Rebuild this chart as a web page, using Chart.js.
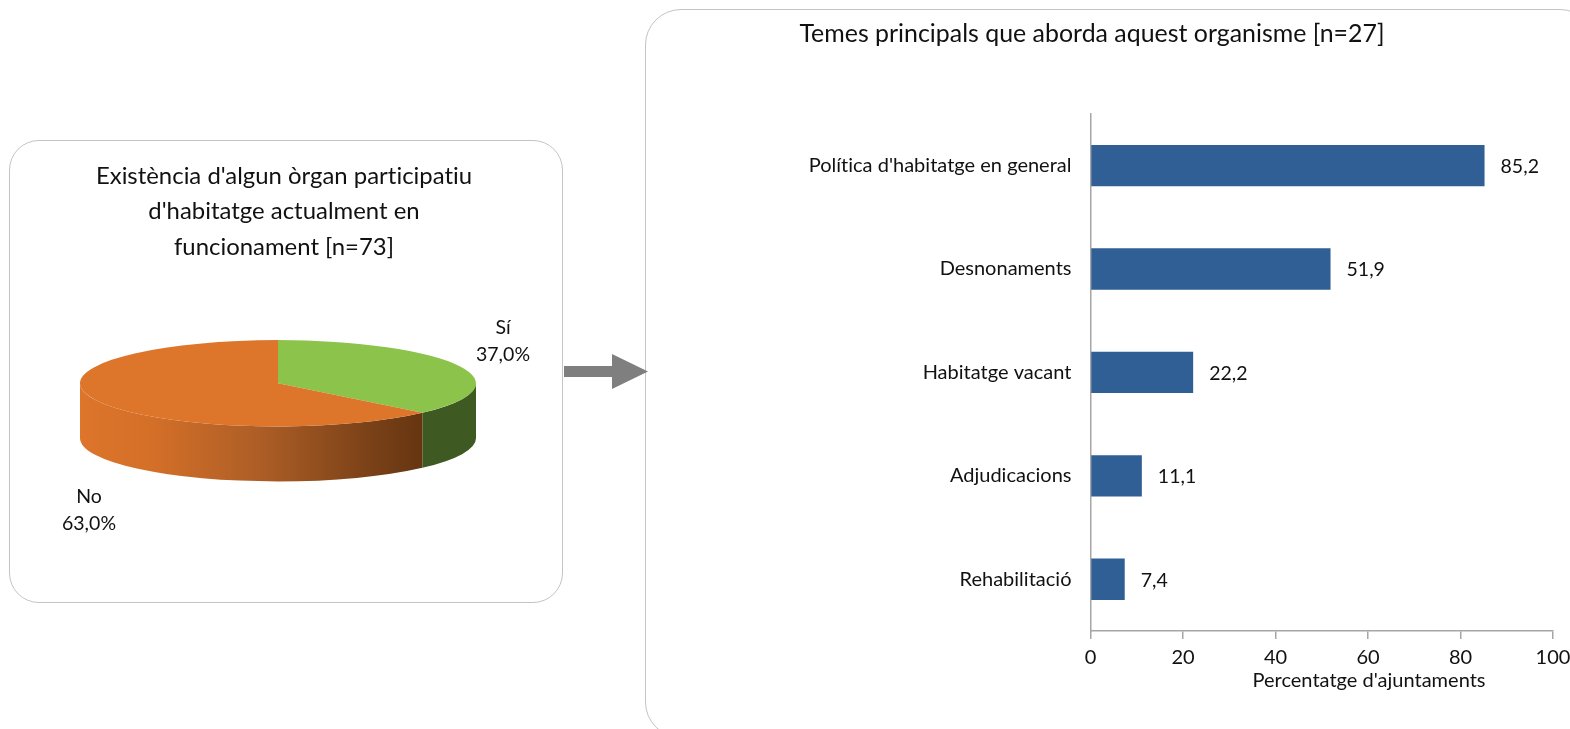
<!DOCTYPE html>
<html>
<head>
<meta charset="utf-8">
<title>Òrgans participatius d'habitatge</title>
<script src="https://cdn.jsdelivr.net/npm/chart.js@4"></script>
<style>
  html, body { margin: 0; padding: 0; width: 1570px; height: 729px; overflow: hidden; background: #fff; }
  .box { position: absolute; border: 1px solid #c4c4c4; box-sizing: border-box; background: #fff; }
  #box-pie { left: 9px; top: 140px; width: 554px; height: 463px; border-radius: 30px; }
  #box-bar { left: 645px; top: 9px; width: 951px; height: 729px; border-radius: 36px; }
  canvas { position: absolute; }
  #pie { left: 9px; top: 140px; }
  #bar { left: 631px; top: 0; }
  #arrow { position: absolute; left: 564px; top: 352px; }
</style>
</head>
<body>
<div class="box" id="box-pie"></div>
<div class="box" id="box-bar"></div>
<canvas id="pie" width="553" height="462"></canvas>
<canvas id="bar" width="939" height="729"></canvas>
<svg id="arrow" width="86" height="40"><path d="M0 14H48V2L84 19.500L48 37V25H0Z" fill="#7f7f7f"/></svg>

<script>
var pieTitle = ["Existència d'algun òrgan participatiu", "d'habitatge actualment en", "funcionament [n=73]"];
var pieLabels = ["Sí", "No"];
var pieValues = [37.0, 63.0];

var barTitle = "Temes principals que aborda aquest organisme [n=27]";
var barLabels = ["Política d'habitatge en general", "Desnonaments", "Habitatge vacant", "Adjudicacions", "Rehabilitació"];
var barValues = [85.2, 51.9, 22.2, 11.1, 7.4];
var barTicks = [0, 20, 40, 60, 80, 100];
var barAxisTitle = "Percentatge d'ajuntaments";

var FONT = "Lato, Carlito, sans-serif";
var TEXT = "#111";
var AXIS = "#a6a6a6";

function comma(v) { return v.toFixed(1).replace(".", ","); }

// Lato turns "ti" into a ligature, the original font doesn't
var noLigatures = {
    id: "noLigatures",
    beforeInit: function(chart) { chart.ctx.letterSpacing = "0.01px"; },
    beforeDraw: function(chart) { chart.ctx.letterSpacing = "0.01px"; }
};

// 3d look for the pie: squash the arcs and put a rim under them
var SQUASH = 0.218;
var DEPTH = 55;
var labelOffset = [[225, -43], [-189, 126]];

var pie3d = {
    id: "pie3d",
    // title sits a bit right of the pie centre
    afterLayout: function(chart) { chart.titleBlock.right += 12; },
    beforeDatasetsDraw: function(chart) {
        var ctx = chart.ctx;
        var arcs = chart.getDatasetMeta(0).data;
        var a = arcs[0];
        var rx = a.outerRadius, ry = rx * SQUASH;

        var shade = ctx.createLinearGradient(a.x - rx, 0, a.x + 160, 0);
        shade.addColorStop(0, "#dd752b");
        shade.addColorStop(0.2, "#d46f28");
        shade.addColorStop(0.5, "#ad5e26");
        shade.addColorStop(0.8, "#7c4218");
        shade.addColorStop(1, "#5f320f");
        var fills = ["#3e5a22", shade];

        arcs.forEach(function(arc, i) {
            var from = Math.max(arc.startAngle, 0);
            var to = Math.min(arc.endAngle, Math.PI);
            if (to <= from) return;
            ctx.beginPath();
            ctx.ellipse(arc.x, arc.y, rx, ry, 0, from, to);
            ctx.ellipse(arc.x, arc.y + DEPTH, rx, ry, 0, to, from, true);
            ctx.closePath();
            ctx.fillStyle = fills[i];
            ctx.fill();
        });

        ctx.save();
        ctx.translate(a.x, a.y);
        ctx.scale(1, SQUASH);
        ctx.translate(-a.x, -a.y);
    },
    afterDatasetsDraw: function(chart) {
        var ctx = chart.ctx;
        ctx.restore();

        ctx.font = "19.5px " + FONT;
        ctx.fillStyle = TEXT;
        ctx.textAlign = "center";
        ctx.textBaseline = "middle";
        chart.getDatasetMeta(0).data.forEach(function(arc, i) {
            var x = arc.x + labelOffset[i][0], y = arc.y + labelOffset[i][1];
            ctx.fillText(pieLabels[i], x, y - 13);
            ctx.fillText(comma(pieValues[i]) + "%", x, y + 14);
        });
    }
};

new Chart(document.getElementById("pie"), {
    type: "pie",
    data: {
        labels: pieLabels,
        datasets: [{
            data: pieValues,
            backgroundColor: ["#8bc34b", "#dd752b"],
            borderWidth: 0
        }]
    },
    options: {
        responsive: false,
        animation: false,
        radius: 198,
        layout: { padding: { right: 15, bottom: 105 } },
        plugins: {
            legend: { display: false },
            tooltip: { enabled: false },
            title: {
                display: true,
                text: pieTitle,
                color: TEXT,
                font: { family: FONT, size: 23.9, weight: "normal", lineHeight: 1.5 },
                padding: { top: 18, bottom: 4 }
            }
        }
    },
    plugins: [noLigatures, pie3d]
});

// values next to the bars + x axis title, which sits off centre in the original
var barText = {
    id: "barText",
    afterDatasetsDraw: function(chart) {
        var ctx = chart.ctx;
        ctx.save();
        ctx.font = "19.5px " + FONT;
        ctx.fillStyle = TEXT;
        ctx.textAlign = "left";
        ctx.textBaseline = "middle";
        chart.getDatasetMeta(0).data.forEach(function(bar, i) {
            ctx.fillText(comma(barValues[i]), bar.x + 16, bar.y + 1);
        });
        ctx.font = "20px " + FONT;
        ctx.textAlign = "center";
        ctx.fillText(barAxisTitle, chart.scales.x.getPixelForValue(60) + 1, 681);
        ctx.restore();
    }
};

new Chart(document.getElementById("bar"), {
    type: "bar",
    data: {
        labels: barLabels,
        datasets: [{
            data: barValues,
            backgroundColor: "#2f5f94",
            barPercentage: 0.4,
            categoryPercentage: 1
        }]
    },
    options: {
        indexAxis: "y",
        responsive: false,
        animation: false,
        layout: { padding: { right: 17 } },
        scales: {
            x: {
                min: 0,
                max: 100,
                afterBuildTicks: function(scale) {
                    scale.ticks = barTicks.map(function(v) { return { value: v }; });
                },
                afterFit: function(scale) { scale.height = 98; scale.paddingRight = 0; },
                grid: { drawOnChartArea: false, drawTicks: true, tickLength: 8, color: AXIS, lineWidth: 1.5 },
                border: { color: AXIS, width: 1.5 },
                ticks: { color: TEXT, font: { family: FONT, size: 20 }, padding: 7, maxRotation: 0 }
            },
            y: {
                afterFit: function(scale) { scale.width = 459.5; },
                grid: { display: false },
                border: { color: AXIS, width: 1.5 },
                ticks: { color: TEXT, font: { family: FONT, size: 20 }, padding: 11 }
            }
        },
        plugins: {
            legend: { display: false },
            tooltip: { enabled: false },
            title: {
                display: true,
                text: barTitle,
                color: TEXT,
                font: { family: FONT, size: 24.9, weight: "normal" },
                padding: { top: 19, bottom: 65 }
            }
        }
    },
    plugins: [noLigatures, barText]
});
</script>
</body>
</html>
